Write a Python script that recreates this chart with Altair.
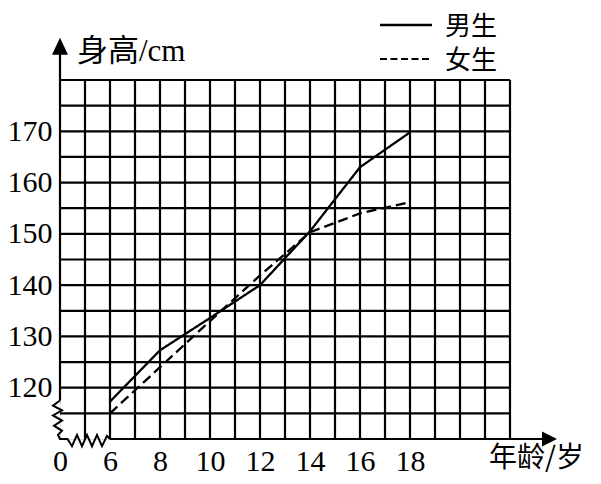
import altair as alt
import pandas as pd

# ---- data ----
ages = [6, 8, 10, 12, 14, 16, 18]
boys = [117.3, 127.3, 133.6, 140.0, 150.5, 163.0, 169.8]
girls = [115.0, 124.0, 133.0, 141.9, 150.3, 154.0, 156.2]
series_names = ["男生", "女生"]

x_grid = list(range(5, 23))          # vertical grid lines (years)
y_grid = list(range(115, 181, 5))    # horizontal grid lines (cm)
x_label_vals = [4, 6, 8, 10, 12, 14, 16, 18]   # 4 is shown as "0" (broken axis)
y_label_vals = [120, 130, 140, 150, 160, 170]

# axis-break zigzags (in data units)
zz_left_x = [4.0, 3.72, 4.08, 3.72, 4.08, 3.76, 4.08, 3.92, 4.0]
zz_left_y = [117.5, 116.5, 115.6, 114.6, 113.6, 112.6, 111.6, 110.8, 110.0]
zz_bot_x = [4.0, 4.3, 4.48, 4.68, 4.88, 5.08, 5.28, 5.48, 5.68, 5.88, 6.0]
zz_bot_y = [110.0, 110.0, 108.6, 110.8, 108.6, 110.8, 108.6, 110.8, 108.6, 110.6, 110.0]

W, H = 450, 359
SERIF = "Liberation Serif, Noto Sans CJK SC"
CJK = "Noto Sans CJK SC"
LW = 2.2

xs = alt.Scale(domain=[4, 22], nice=False, zero=False)
ys = alt.Scale(domain=[110, 180], nice=False, zero=False)

XA = alt.Axis(
    values=x_label_vals,
    labelExpr="datum.value == 4 ? '0' : datum.label",
    grid=False, ticks=False, domain=False, title=None,
    labelFont=SERIF, labelFontSize=30, labelColor="black",
    labelPadding=7, labelFlush=False, labelOverlap=False)
YA = alt.Axis(
    values=y_label_vals,
    grid=False, ticks=False, domain=False, title=None,
    labelFont=SERIF, labelFontSize=30, labelColor="black",
    labelPadding=8, labelFlush=False, labelOverlap=False)

lines_df = pd.DataFrame(
    {"age": ages * 2,
     "h": boys + girls,
     "s": [series_names[0]] * len(ages) + [series_names[1]] * len(ages)}
)

# grid
vgrid = alt.Chart(pd.DataFrame({"g": x_grid})).mark_rule(
    color="black", strokeWidth=LW
).encode(x=alt.X("g:Q", scale=xs, axis=XA), y=alt.value(0), y2=alt.value(H))

hgrid = alt.Chart(pd.DataFrame({"g": y_grid})).mark_rule(
    color="black", strokeWidth=LW
).encode(y=alt.Y("g:Q", scale=ys, axis=YA), x=alt.value(0), x2=alt.value(W))

# axis lines
axes_df = pd.DataFrame({"x": [4.0, 6.0], "x2": [4.0, 23.4], "y": [117.5, 110.0], "y2": [185.0, 110.0]})
axis_lines = alt.Chart(axes_df).mark_rule(color="black", strokeWidth=LW).encode(
    x=alt.X("x:Q", scale=xs, axis=XA), x2="x2:Q",
    y=alt.Y("y:Q", scale=ys, axis=YA), y2="y2:Q",
)

zz_df = pd.DataFrame({
    "x": zz_left_x + zz_bot_x,
    "y": zz_left_y + zz_bot_y,
    "o": list(range(len(zz_left_x) + len(zz_bot_x))),
})
zigzag = alt.Chart(zz_df).mark_line(color="black", strokeWidth=2).encode(
    x=alt.X("x:Q", scale=xs, axis=XA),
    y=alt.Y("y:Q", scale=ys, axis=YA),
    order="o:Q",
)

# arrow heads
arrow_up = alt.Chart(pd.DataFrame({"x": [4.0], "y": [184.9]})).mark_point(
    shape="M0,-1L-0.47,0L0.47,0Z", size=1156, filled=True, color="black", opacity=1
).encode(x=alt.X("x:Q", scale=xs, axis=XA), y=alt.Y("y:Q", scale=ys, axis=YA))

arrow_right = alt.Chart(pd.DataFrame({"x": [23.28], "y": [110.0]})).mark_point(
    shape="M1,0L0,-0.5L0,0.5Z", size=900, filled=True, color="black", opacity=1
).encode(x=alt.X("x:Q", scale=xs, axis=XA), y=alt.Y("y:Q", scale=ys, axis=YA))

# data lines
data_lines = alt.Chart(lines_df).mark_line(color="black", strokeWidth=2.3).encode(
    x=alt.X("age:Q", scale=xs, axis=XA),
    y=alt.Y("h:Q", scale=ys, axis=YA),
    strokeDash=alt.StrokeDash("s:N", scale=alt.Scale(domain=series_names, range=[[1, 0], [10, 5]]), legend=None),
    detail="s:N",
)

# titles
y_title = alt.Chart(pd.DataFrame({"t": ["身高/cm"]})).mark_text(
    font=SERIF, fontSize=31, align="left", baseline="middle", color="black"
).encode(text="t:N", x=alt.value(17), y=alt.value(-28))

x_title = alt.Chart(pd.DataFrame({"t": ["年龄/岁"]})).mark_text(
    font=CJK, fontSize=28, align="left", baseline="middle", color="black"
).encode(text="t:N", x=alt.value(429), y=alt.value(379))

# legend (manual, top right)
leg_solid = alt.Chart(pd.DataFrame({"a": [0]})).mark_rule(color="black", strokeWidth=2.3).encode(
    x=alt.value(320), x2=alt.value(372), y=alt.value(-55))
leg_dash = alt.Chart(pd.DataFrame({"a": [0]})).mark_rule(color="black", strokeWidth=2, strokeDash=[7, 3.5]).encode(
    x=alt.value(320), x2=alt.value(372), y=alt.value(-21))
leg_boy = alt.Chart(pd.DataFrame({"t": [series_names[0]]})).mark_text(
    font=CJK, fontSize=26, align="left", baseline="middle", color="black"
).encode(text="t:N", x=alt.value(385), y=alt.value(-53))
leg_girl = alt.Chart(pd.DataFrame({"t": [series_names[1]]})).mark_text(
    font=CJK, fontSize=26, align="left", baseline="middle", color="black"
).encode(text="t:N", x=alt.value(385), y=alt.value(-19))

chart = alt.layer(
    vgrid, hgrid, axis_lines, zigzag, arrow_up, arrow_right, data_lines,
    y_title, x_title, leg_solid, leg_dash, leg_boy, leg_girl,
).properties(
    width=W, height=H,
    autosize=alt.AutoSizeParams(type="none"),
    padding={"left": 52, "top": 72, "right": 83, "bottom": 37},
).configure_view(stroke=None).configure(background="white")

chart.save("out.html", embed_options={"renderer": "svg", "actions": False})
